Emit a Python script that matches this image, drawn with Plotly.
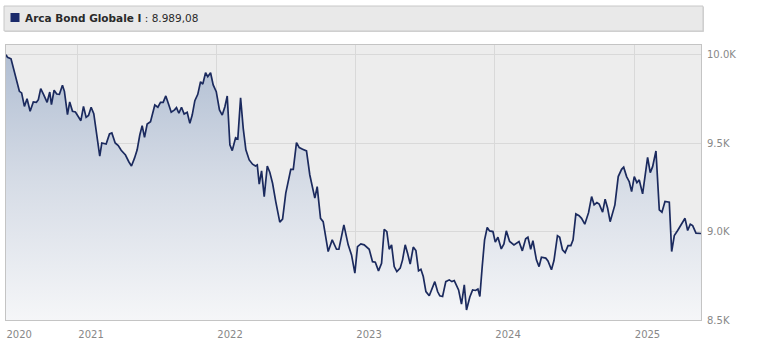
import plotly.graph_objects as go
from datetime import datetime

fund_name = "Arca Bond Globale I"
last_value_label = "8.989,08"

# time as decimal years
t_year = [
    2020.485, 2020.496, 2020.521, 2020.545, 2020.581, 2020.597, 2020.617, 2020.636, 2020.658, 2020.681,
    2020.703, 2020.717, 2020.734, 2020.755, 2020.780, 2020.799, 2020.811, 2020.830, 2020.849, 2020.868,
    2020.890, 2020.904, 2020.926, 2020.942, 2020.962, 2020.983, 2021.005, 2021.022, 2021.041, 2021.060,
    2021.077, 2021.096, 2021.115, 2021.132, 2021.158, 2021.173, 2021.204, 2021.228, 2021.245, 2021.269,
    2021.291, 2021.312, 2021.331, 2021.343, 2021.367, 2021.386, 2021.408, 2021.427, 2021.446, 2021.463,
    2021.480, 2021.499, 2021.523, 2021.554, 2021.576, 2021.595, 2021.614, 2021.633, 2021.655, 2021.672,
    2021.696, 2021.710, 2021.727, 2021.746, 2021.765, 2021.787, 2021.806, 2021.823, 2021.842, 2021.863,
    2021.883, 2021.899, 2021.919, 2021.935, 2021.955, 2021.974, 2021.996, 2022.019, 2022.039, 2022.058,
    2022.075, 2022.094, 2022.111, 2022.135, 2022.151, 2022.171, 2022.190, 2022.209, 2022.233, 2022.257,
    2022.278, 2022.291, 2022.305, 2022.322, 2022.341, 2022.363, 2022.381, 2022.401, 2022.424, 2022.453,
    2022.473, 2022.496, 2022.532, 2022.550, 2022.573, 2022.593, 2022.617, 2022.645, 2022.669, 2022.705,
    2022.722, 2022.746, 2022.765, 2022.801, 2022.830, 2022.861, 2022.878, 2022.914, 2022.945, 2022.969,
    2022.993, 2023.012, 2023.036, 2023.060, 2023.096, 2023.120, 2023.140, 2023.163, 2023.185, 2023.204,
    2023.223, 2023.240, 2023.257, 2023.276, 2023.295, 2023.319, 2023.336, 2023.355, 2023.372, 2023.391,
    2023.413, 2023.432, 2023.451, 2023.468, 2023.485, 2023.504, 2023.528, 2023.552, 2023.568, 2023.588,
    2023.604, 2023.624, 2023.647, 2023.672, 2023.691, 2023.708, 2023.739, 2023.760, 2023.780, 2023.796,
    2023.820, 2023.840, 2023.861, 2023.878, 2023.892, 2023.909, 2023.926, 2023.945, 2023.962, 2023.986,
    2024.003, 2024.022, 2024.046, 2024.065, 2024.082, 2024.106, 2024.137, 2024.173, 2024.197, 2024.221,
    2024.237, 2024.257, 2024.273, 2024.298, 2024.317, 2024.334, 2024.365, 2024.381, 2024.406, 2024.424,
    2024.449, 2024.465, 2024.485, 2024.504, 2024.525, 2024.545, 2024.561, 2024.581, 2024.604, 2024.622,
    2024.645, 2024.672, 2024.694, 2024.712, 2024.732, 2024.748, 2024.773, 2024.791, 2024.809, 2024.827,
    2024.861, 2024.885, 2024.909, 2024.924, 2024.945, 2024.964, 2024.981, 2025.000, 2025.019, 2025.036,
    2025.060, 2025.096, 2025.115, 2025.132, 2025.156, 2025.180, 2025.199, 2025.221, 2025.252, 2025.269,
    2025.288, 2025.312, 2025.336, 2025.365, 2025.384, 2025.403, 2025.420, 2025.444, 2025.480,
]

nav = [
    10000, 9985, 9977, 9906, 9793, 9784, 9708, 9751, 9680, 9733,
    9731, 9746, 9808, 9774, 9731, 9789, 9718, 9799, 9778, 9776,
    9827, 9793, 9661, 9733, 9680, 9676, 9652, 9627, 9708, 9646,
    9657, 9703, 9667, 9567, 9426, 9501, 9495, 9552, 9558, 9501,
    9486, 9460, 9445, 9433, 9395, 9371, 9415, 9462, 9546, 9599,
    9533, 9608, 9621, 9716, 9703, 9731, 9731, 9767, 9716, 9675,
    9688, 9701, 9669, 9703, 9665, 9675, 9612, 9659, 9740, 9776,
    9847, 9834, 9898, 9876, 9898, 9829, 9791, 9688, 9659, 9706,
    9767, 9490, 9458, 9531, 9524, 9757, 9584, 9462, 9405, 9381,
    9371, 9377, 9268, 9343, 9198, 9371, 9336, 9273, 9169, 9053,
    9070, 9217, 9352, 9352, 9503, 9475, 9466, 9456, 9320, 9189,
    9254, 9075, 9056, 8887, 8953, 8900, 8900, 9038, 8925, 8868,
    8765, 8915, 8930, 8925, 8900, 8830, 8827, 8778, 8821, 9013,
    9000, 8900, 8925, 8802, 8774, 8793, 8840, 8925, 8878, 8816,
    8912, 8893, 8778, 8787, 8746, 8661, 8637, 8680, 8717, 8661,
    8637, 8633, 8717, 8727, 8717, 8723, 8670, 8590, 8699, 8557,
    8630, 8670, 8667, 8675, 8633, 8802, 8953, 9023, 9004, 9000,
    8940, 8968, 8902, 8930, 9004, 8944, 8925, 8944, 8891, 8959,
    8968, 8900, 8949, 8840, 8802, 8855, 8850, 8834, 8784, 8836,
    8977, 8968, 8897, 8881, 8921, 8921, 8953, 9100, 9090, 9075,
    9042, 9107, 9198, 9151, 9164, 9156, 9110, 9183, 9132, 9056,
    9151, 9311, 9352, 9364, 9311, 9282, 9226, 9311, 9277, 9292,
    9213, 9420, 9333, 9367, 9456, 9123, 9110, 9170, 9166, 8887,
    8977, 9006, 9038, 9075, 9006, 9042, 9034, 8991, 8989.08,
]

y_tickvals = [8500, 9000, 9500, 10000]
y_ticktext = ["8.5K", "9.0K", "9.5K", "10.0K"]
year_labels = ["2020", "2021", "2022", "2023", "2024", "2025"]


def to_date(t):
    y = int(t)
    start = datetime(y, 1, 1)
    end = datetime(y + 1, 1, 1)
    return start + (end - start) * (t - y)


dates = [to_date(t) for t in t_year]
x_tickvals = [dates[0]] + [datetime(int(s), 1, 1) for s in year_labels[1:]]

LINE = "#1b2a5e"
GRID = "#d9d9d9"
BORDER = "#c4c4c4"
FONT = "DejaVu Sans"

fig = go.Figure()
fig.add_trace(go.Scatter(
    x=dates, y=nav, mode="lines",
    line=dict(color=LINE, width=1.7),
    fill="tozeroy",
    fillgradient=dict(type="vertical", start=8500, stop=10055,
                      colorscale=[[0, "#f5f6f8"], [0.5, "#d6dce6"], [1, "#aebcd1"]]),
    hoverinfo="skip",
    showlegend=False,
))

fig.update_layout(
    width=778, height=360,
    margin=dict(l=6, r=77, t=45, b=40),
    paper_bgcolor="#ffffff",
    plot_bgcolor="#ededed",
    font=dict(family=FONT, size=10, color="#888888"),
    xaxis=dict(
        type="date",
        range=[dates[0], dates[-1]],
        tickvals=x_tickvals, ticktext=year_labels,
        ticklabelposition="outside right",
        ticklabelstandoff=5,
        showgrid=True, gridcolor=GRID, gridwidth=1,
        showline=True, linecolor=BORDER, mirror=True,
        ticks="", zeroline=False,
        tickfont=dict(family=FONT, size=10, color="#888888"),
    ),
    yaxis=dict(
        side="right",
        range=[8500, 10055],
        tickvals=y_tickvals, ticktext=y_ticktext,
        ticklabelstandoff=3,
        showgrid=True, gridcolor=GRID, gridwidth=1,
        showline=True, linecolor=BORDER, mirror=True,
        ticks="", zeroline=False,
        tickfont=dict(family=FONT, size=10, color="#888888"),
    ),
)

# legend header bar
pw = 778 - 6 - 77
ph = 360 - 45 - 40


def px_x(p):
    return (p - 6) / pw


def px_y(p):
    return (360 - 40 - p) / ph


fig.add_shape(type="rect", xref="paper", yref="paper",
              x0=px_x(5), x1=px_x(704), y0=px_y(32), y1=px_y(7),
              line=dict(width=0), fillcolor="#d6d6d6", layer="above")
fig.add_shape(type="rect", xref="paper", yref="paper",
              x0=px_x(4), x1=px_x(703), y0=px_y(31), y1=px_y(6),
              line=dict(color="#c8c8c8", width=1), fillcolor="#e9e9e9", layer="above")
fig.add_shape(type="rect", xref="paper", yref="paper",
              x0=px_x(10.5), x1=px_x(19.5), y0=px_y(22), y1=px_y(13),
              line=dict(width=0), fillcolor="#1b2a6b", layer="above")
fig.add_annotation(
    xref="paper", yref="paper", x=px_x(23), y=px_y(18.5),
    xanchor="left", yanchor="middle", showarrow=False,
    text=f"<b>{fund_name}</b> : {last_value_label}",
    font=dict(family=FONT, size=10.5, color="#2a2a2a"),
)

fig.write_html("out.html", post_script="document.body.style.margin='0';",
               config={"displayModeBar": False})
